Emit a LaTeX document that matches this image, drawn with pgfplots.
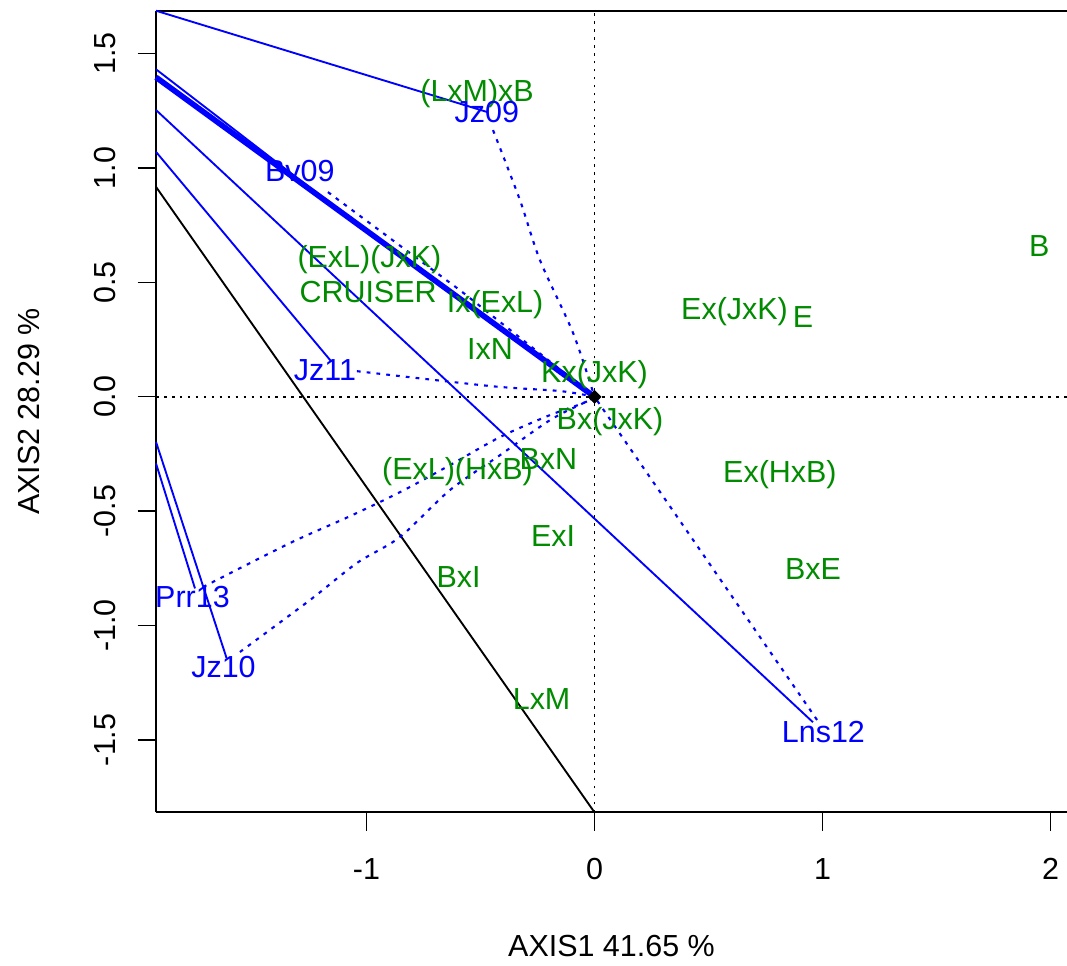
\documentclass[border=0pt]{standalone}
\usepackage{fontspec}
\setmainfont{Liberation Sans}
\usepackage{pgfplots}
\usepackage{pgfplotstable}
\pgfplotsset{compat=1.18}

\definecolor{rgreen}{RGB}{0,139,0}
\definecolor{rblue}{RGB}{0,0,255}

% genotype labels (green)
\pgfplotstableread{
x y lab
-0.515 1.328 (LxM)xB
1.950 0.650 B
-0.987 0.602 (ExL)(JxK)
-0.993 0.449 CRUISER
-0.436 0.405 Ix(ExL)
0.614 0.375 Ex(JxK)
0.914 0.338 E
-0.458 0.198 IxN
0.000 0.099 Kx(JxK)
0.068 -0.108 Bx(JxK)
-0.202 -0.283 BxN
-0.601 -0.325 (ExL)(HxB)
0.813 -0.338 Ex(HxB)
-0.182 -0.616 ExI
-0.596 -0.797 BxI
0.958 -0.762 BxE
-0.232 -1.331 LxM
}\genolab

% environment labels (blue)
\pgfplotstableread{
x y lab
-0.472 1.236 Jz09
-1.292 0.980 Bv09
-1.182 0.110 Jz11
-1.763 -0.885 Prr13
-1.627 -1.191 Jz10
1.004 -1.473 Lns12
}\envlab

\begin{document}
\begin{tikzpicture}[font=\fontsize{13}{15.6}\selectfont]
\begin{axis}[
    scale only axis,
    width=13.665cm, height=12.024cm,
    xmin=-1.923, xmax=2.072,
    ymin=-1.817, ymax=1.688,
    axis x line*=box, axis y line*=left,
    axis line style={-, line width=0.8pt},
    xtick pos=left, ytick pos=left,
    tick align=outside,
    major tick length=0.276cm,
    tick style={line width=0.6pt, black},
    xtick={-1,0,1,2}, xticklabels={-1,0,1,2},
    ytick={-1.5,-1,-0.5,0,0.5,1,1.5},
    yticklabels={-1.5,-1.0,-0.5,0.0,0.5,1.0,1.5},
    xticklabel style={anchor=north, text height=0.716em, text depth=0pt, inner sep=0pt, yshift=-0.475cm},
    yticklabel style={rotate=90, anchor=south, text height=0.716em, text depth=0pt, inner sep=0pt, yshift=0.33cm},
    xlabel={AXIS1 41.65 \%},
    ylabel={AXIS2 28.29 \%},
    xlabel style={at={(axis description cs:0.5,-0.1697)}, anchor=center, text height=0.716em, text depth=0pt, inner sep=0pt},
    ylabel style={at={(axis description cs:-0.1367,0.5)}, anchor=center, rotate=0, text height=0.716em, text depth=0pt, inner sep=0pt},
    clip=false,
]
% reference axes through the origin
\addplot[black, line width=0.8pt, dash pattern=on 1.1pt off 2.3pt] coordinates {(0,-1.817) (0,1.688)};
\addplot[black, line width=0.8pt, dash pattern=on 1.1pt off 2.3pt] coordinates {(-1.923,0) (2.072,0)};

% solid lines
\addplot[black, line width=0.8pt] coordinates {(-1.923,0.918) (0,-1.817)};
\addplot[rblue, line width=0.8pt] coordinates {(-1.923,1.688) (-0.467,1.244)};
\addplot[rblue, line width=0.8pt] coordinates {(-1.923,1.432) (-1.195,0.873)};
\addplot[rblue, line width=2.4pt] coordinates {(-1.923,1.397) (0,0)};
\addplot[rblue, line width=0.8pt] coordinates {(-1.923,1.254) (0.958,-1.423)};
\addplot[rblue, line width=0.8pt] coordinates {(-1.923,1.071) (-1.153,0.153)};
\addplot[rblue, line width=0.8pt] coordinates {(-1.923,-0.197) (-1.613,-1.144)};
\addplot[rblue, line width=0.8pt] coordinates {(-1.923,-0.291) (-1.752,-0.838)};

% dotted environment vectors
\addplot[rblue, line width=0.9pt, dash pattern=on 1.6pt off 2.6pt, smooth] coordinates {
    (-0.445,1.166) (-0.327,0.860) (-0.239,0.597) (-0.094,0.279) (0,0)};
\addplot[rblue, line width=0.9pt, dash pattern=on 1.6pt off 2.6pt] coordinates {
    (-1.169,0.895) (-0.590,0.466) (0,0)};
\addplot[rblue, line width=0.9pt, dash pattern=on 1.6pt off 2.6pt, smooth] coordinates {
    (-1.042,0.112) (-0.458,0.047) (-0.151,0.025) (0,0)};
\addplot[rblue, line width=0.9pt, dash pattern=on 1.6pt off 2.6pt, smooth] coordinates {
    (-1.717,-0.832) (-1.336,-0.640) (-1.072,-0.522) (-0.853,-0.417) (-0.634,-0.299)
    (-0.414,-0.176) (-0.195,-0.080) (-0.050,-0.028) (0,0)};
\addplot[rblue, line width=0.9pt, dash pattern=on 1.6pt off 2.6pt, smooth] coordinates {
    (-1.555,-1.116) (-1.248,-0.889) (-1.042,-0.727) (-0.853,-0.613) (-0.634,-0.408)
    (-0.414,-0.255) (-0.195,-0.102) (-0.050,-0.028) (0,0)};
\addplot[rblue, line width=0.9pt, dash pattern=on 1.6pt off 2.6pt] coordinates {
    (0.976,-1.413) (0,0)};

% origin marker
\addplot[only marks, mark=square*, mark size=1.9pt, mark options={rotate=45, fill=black, draw=black}] coordinates {(0,0)};

% labels
\addplot[draw=none, mark=none, nodes near coords, point meta=explicit symbolic,
    every node near coord/.append style={anchor=center, text=rgreen, inner sep=0pt, text height=0.716em, text depth=0pt}]
    table[x=x, y=y, meta=lab] {\genolab};
\addplot[draw=none, mark=none, nodes near coords, point meta=explicit symbolic,
    every node near coord/.append style={anchor=center, text=rblue, inner sep=0pt, text height=0.716em, text depth=0pt}]
    table[x=x, y=y, meta=lab] {\envlab};
\end{axis}
\pgfresetboundingbox
\path (current axis.south west) ++(-2.34cm,-2.29cm) rectangle ++(16.005cm,14.475cm);
\end{tikzpicture}
\end{document}
